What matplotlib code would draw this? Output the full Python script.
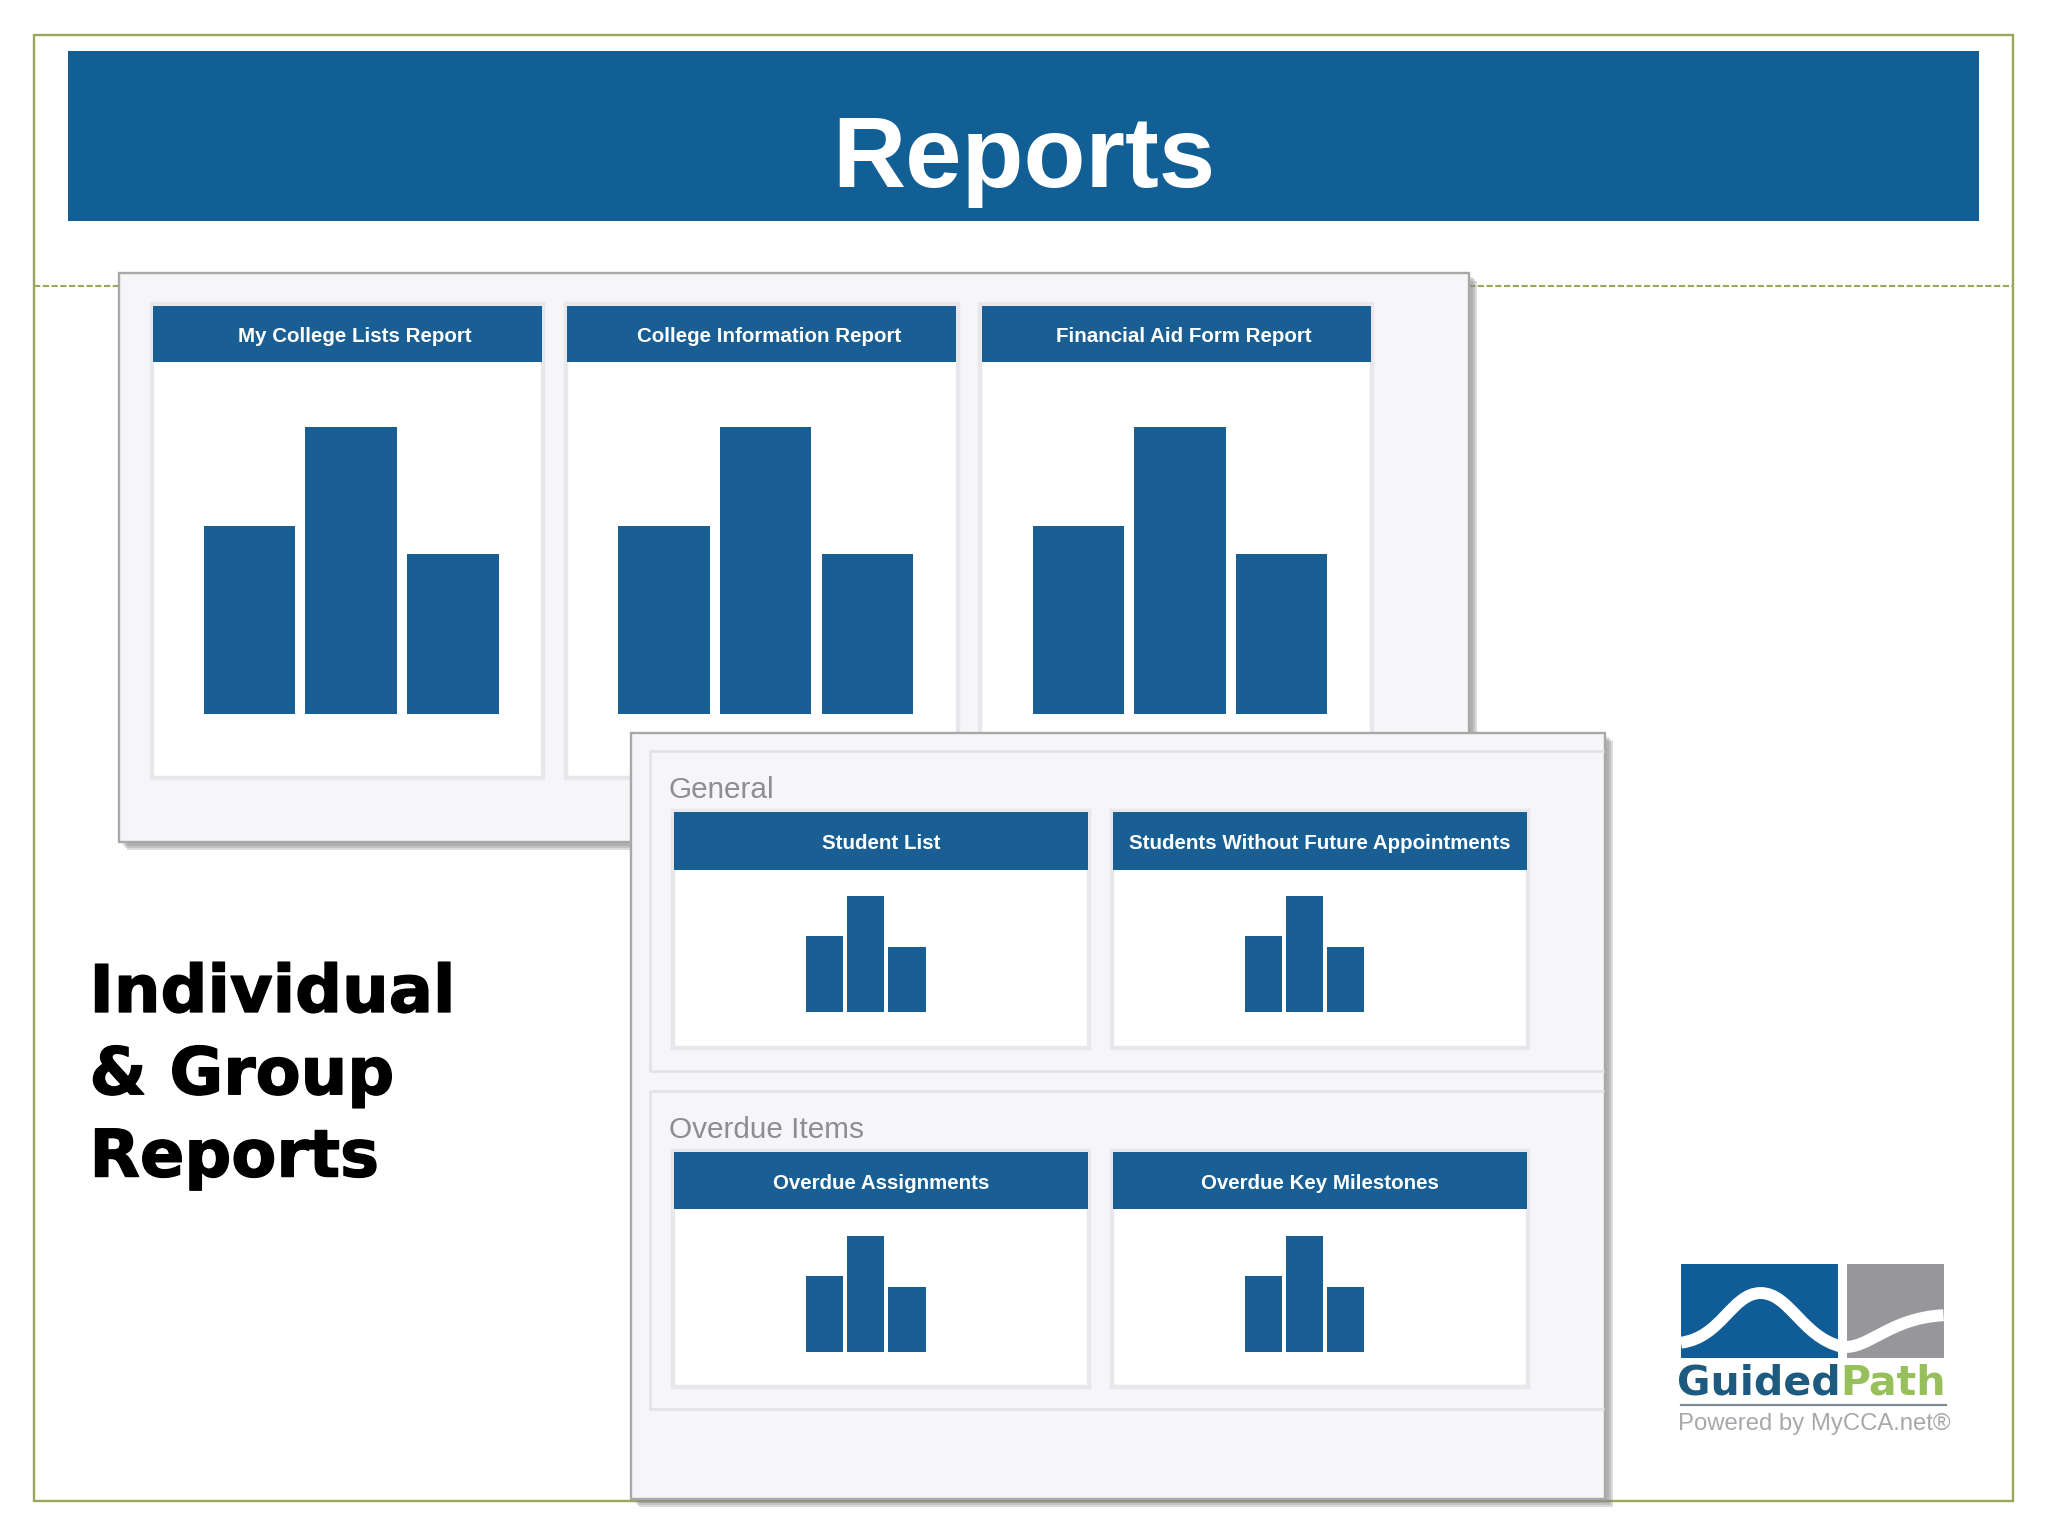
import matplotlib
matplotlib.use('Agg')
import matplotlib.pyplot as plt
import matplotlib.patheffects as pe
from matplotlib.patches import Rectangle, PathPatch
from matplotlib.path import Path

# chart values (relative bar heights, all cards share the same icon)
bar_values = [65.5, 100, 56]
top_reports = ['My College Lists Report', 'College Information Report', 'Financial Aid Form Report']
general_reports = ['Student List', 'Students Without Future Appointments']
overdue_reports = ['Overdue Assignments', 'Overdue Key Milestones']

BLUE = '#125f96'
HEAD = '#1a5f94'
OLIVE = '#9aa65c'
PANEL = '#f6f5f8'
EDGE = '#a8a8a8'
CARD_EDGE = '#e8e8ec'

W, H = 1568, 1176  # working units, the figure is scaled up from these

fig = plt.figure(figsize=(20.48, 15.36), dpi=100, facecolor='white')
ax = fig.add_axes([0, 0, 1, 1])
ax.set_xlim(0, W)
ax.set_ylim(H, 0)
ax.axis('off')


def rect(x0, y0, x1, y1, fc='none', ec='none', lw=0, z=1, alpha=None):
    ax.add_patch(Rectangle((x0, y0), x1 - x0, y1 - y0, fc=fc, ec=ec, lw=lw, zorder=z, alpha=alpha))


def panel(x0, y0, x1, y1, z):
    # soft shadow, three layers
    for off in (6, 4.5, 3):
        rect(x0 + off, y0 + off, x1 + off, y1 + off, fc='#8a8a8c', alpha=0.3, z=z)
    rect(x0, y0, x1, y1, fc=PANEL, ec=EDGE, lw=1.7, z=z + 0.1)


def mini_bars(x0, x1, base, top, z):
    a = fig.add_axes([x0 / W, 1 - base / H, (x1 - x0) / W, (base - top) / H], zorder=z)
    a.bar(range(3), bar_values, width=0.9, color=HEAD)
    a.set_xlim(-0.45, 2.46)
    a.set_ylim(0, 100)
    a.axis('off')


def card(x0, y0, x1, y1, head_h, label, fs, dx, z):
    rect(x0 - 1, y0 - 1, x1 + 1, y1 + 1, fc='white', ec=CARD_EDGE, lw=3.2, z=z)
    rect(x0, y0, x1, y0 + head_h, fc=HEAD, z=z + 0.1)
    ax.text((x0 + x1) / 2 + dx, y0 + head_h / 2 + 2, label, color='white', fontsize=fs, fontweight='bold',
            family='Liberation Sans', ha='center', va='center', zorder=z + 0.2)


# slide frame
rect(26, 27, 1541, 1149, ec=OLIVE, lw=1.7, z=1)
ax.plot([26, 1541], [219, 219], color=OLIVE, lw=1.5, ls=(0, (3, 1.2)), zorder=1)
rect(52, 39, 1515, 169, fc=BLUE, z=2)
ax.text(783.5, 123, 'Reports', color='white', fontsize=73, fontweight='bold',
        family='Liberation Sans', ha='center', va='center', zorder=3)

# top panel
panel(91, 209, 1125, 645, 4)
for i, name in enumerate(top_reports):
    x0 = 117 + i * 317.3
    card(x0, 234, x0 + 298, 595, 43, name, 14.8, 5.5, 5)
    mini_bars(x0 + 39, x0 + 265.5, 547, 327, 6)

for y, line in zip([761, 824, 887], ['Individual', '& Group', 'Reports']):
    ax.text(68.5, y, line, fontsize=47.2, fontweight='bold', color='black', family='DejaVu Sans',
            va='center', zorder=3, path_effects=[pe.withStroke(linewidth=1.0, foreground='black')])

# lower panel, sits over the top one
panel(483, 561, 1229, 1148, 7)
for y0, y1 in [(575, 820), (835, 1079)]:
    ax.plot([1228, 498, 498, 1228], [y0, y0, y1, y1], color='#e4e4e8', lw=2, zorder=7.5,
            solid_capstyle='butt')
ax.text(512, 605, 'General', fontsize=21.4, color='#8e8e92', family='Liberation Sans',
        va='center', zorder=8)
ax.text(512, 865, 'Overdue Items', fontsize=21.4, color='#8e8e92', family='Liberation Sans',
        va='center', zorder=8)

for y0, names in [(622, general_reports), (882, overdue_reports)]:
    for x0, name in zip([516, 852], names):
        card(x0, y0, x0 + 317, y0 + 179, 44, name, 14.8, 0, 9)
        mini_bars(x0 + 101, x0 + 193, y0 + 153, y0 + 64, 10)

# logo
rect(1287, 968, 1407, 1040, fc='#0f5c96', z=3)
rect(1414, 968, 1488, 1040, fc='#97979b', z=3)
wave = Path([(1287, 1028), (1318, 1024), (1326, 990), (1348, 990), (1370, 990), (1380, 1024), (1410, 1031),
             (1430, 1034), (1446, 1009), (1488, 1007)],
            [Path.MOVETO] + [Path.CURVE4] * 9)
ax.add_patch(PathPatch(wave, fc='none', ec='white', lw=8.6, zorder=4))
ax.text(1284, 1059, 'Guided', fontsize=29.5, fontweight='bold', color='#1d5a80', family='DejaVu Sans',
        va='center', zorder=4)
ax.text(1409, 1059, 'Path', fontsize=29.5, fontweight='bold', color='#97bf5b', family='DejaVu Sans',
        va='center', zorder=4)
ax.plot([1287, 1490], [1076, 1076], color='#7f8a94', lw=1.6, zorder=4)
ax.text(1285, 1090, 'Powered by MyCCA.net\u00ae', fontsize=17.2, color='#a8a8ac', family='Liberation Sans',
        va='center', zorder=4)

fig.savefig('out.png', dpi=100)
